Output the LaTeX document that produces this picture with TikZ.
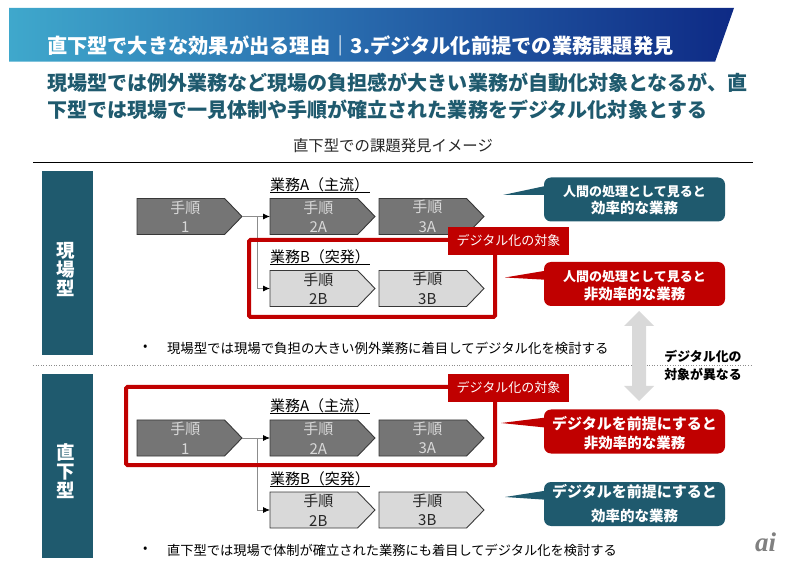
\documentclass[tikz,border=0pt]{standalone}
\usepackage{fontspec}
\setmainfont{Noto Sans CJK JP}
\newfontfamily\logofont{Liberation Serif}
\usetikzlibrary{shapes.symbols,arrows.meta}
\definecolor{teal}{HTML}{1F5A6E}
\definecolor{redc}{HTML}{C00000}
\definecolor{chevd}{HTML}{757575}
\definecolor{chevl}{HTML}{D9D9D9}
\definecolor{chevb}{HTML}{383838}
\definecolor{bna}{HTML}{3FA8CC}
\definecolor{bnb}{HTML}{2767AB}
\definecolor{bnc}{HTML}{0E2A85}
\newcommand\chevtxt[2]{\hspace*{9pt}#1\\[.5pt]\hspace*{9pt}#2}
\tikzset{
  txt/.style={inner sep=0,outer sep=0,anchor=west},
  chev/.style={signal,signal to=east,signal from=nowhere,signal pointer angle=92,
    minimum width=105pt,minimum height=36pt,inner sep=0,outer sep=0,anchor=west,
    draw=chevb,line width=.9pt,align=center,font=\fontsize{15}{19}\selectfont},
  chevdark/.style={chev,fill=chevd,text=chevl},
  chevlight/.style={chev,fill=chevl,text=black!85},
  block/.style={fill=teal,inner sep=0,minimum width=51pt,minimum height=184pt},
  blocktext/.style={text=white,inner sep=0,align=center,font=\bfseries\fontsize{18.5}{19}\selectfont},
  frame/.style={draw=redc,line width=4pt,rounded corners=1.5pt},
  tag/.style={fill=redc,text=white,inner sep=0,minimum width=121pt,minimum height=28pt,
    font=\fontsize{13}{16}\selectfont},
  callout/.style={rounded corners=7pt,inner sep=0,minimum width=181pt,minimum height=44pt},
  calltext/.style={inner sep=0,text=white,align=center,font=\bfseries},
  wire/.style={draw=black!45,line width=.8pt},
  wirea/.style={wire,-{Latex[black,length=7pt,width=6pt]}},
  ulab/.style={txt,font=\fontsize{15}{16}\selectfont},
  uline/.style={draw=black,line width=.8pt},
}
\begin{document}
\begin{tikzpicture}[x=1pt,y=-1pt]
\useasboundingbox (0,0) rectangle (785,561);
% banner
\shade[left color=bna,right color=bnc,middle color=bnb] (9,8) -- (734,8) -- (715,62) -- (9,62) -- cycle;
\draw[white,opacity=.35,line width=1pt] (9,62) -- (715,62);
\node[txt,text=white,font=\bfseries\fontsize{20.25}{24}\selectfont] (title) at (47,46) {直下型で大きな効果が出る理由｜3.デジタル化前提での業務課題発見};
\node[txt,text=teal,align=left,font=\bfseries\fontsize{20.05}{27}\selectfont] (head) at (47,96.5) {現場型では例外業務など現場の負担感が大きい業務が自動化対象となるが、直\\下型では現場で一見体制や手順が確立された業務をデジタル化対象とする};
\node[txt,text=black!85,font=\fontsize{15.4}{18}\selectfont] (sub) at (293,146) {直下型での課題発見イメージ};
\coordinate (rl) at (33,162); \coordinate (rr) at (753,162);
\draw[black,line width=.8pt] (rl) -- (rr);
\coordinate (dl) at (33,365); \coordinate (dr) at (753,365);
\draw[black!45,dotted,line width=.6pt] (dl) -- (dr);
% blocks
\node[block] (b1) at (67.5,263) {};
\node[blocktext] (b1t) at (65.5,270) {現\\場\\型};
\node[block] (b2) at (67.5,466) {};
\node[blocktext] (b2t) at (65.5,471.5) {直\\下\\型};
% upper flow
\node[chevdark] (u1) at (137,216.5) {\chevtxt{手順}{1}};
\node[chevdark] (u2a) at (270,216.5) {\chevtxt{手順}{2A}};
\node[chevdark] (u3a) at (379,216.5) {\chevtxt{手順}{3A}};
\node[chevlight] (u2b) at (270,288.5) {\chevtxt{手順}{2B}};
\node[chevlight] (u3b) at (379,288.5) {\chevtxt{手順}{3B}};
\coordinate (ubr) at (257,216.5);
\draw[wirea] (u1.east) -- (u2a.west);
\draw[wirea] (ubr) |- (u2b.west);
\node[ulab] (ula) at (270,185) {業務A（主流）};
\coordinate (ula1) at (270,192.7); \coordinate (ula2) at (370,192.7);
\draw[uline] (ula1) -- (ula2);
\node[ulab] (ulb) at (270,257) {業務B（突発）};
\coordinate (ulb1) at (270,264.7); \coordinate (ulb2) at (370,264.7);
\draw[uline] (ulb1) -- (ulb2);
\draw[frame] (249,240) rectangle (495,317);
\node[tag] (t1) at (508.5,241) {デジタル化の対象};
% lower flow
\node[chevdark] (l1) at (137,438) {\chevtxt{手順}{1}};
\node[chevdark] (l2a) at (270,438) {\chevtxt{手順}{2A}};
\node[chevdark] (l3a) at (379,438) {\chevtxt{手順}{3A}};
\node[chevlight] (l2b) at (270,510) {\chevtxt{手順}{2B}};
\node[chevlight] (l3b) at (379,510) {\chevtxt{手順}{3B}};
\coordinate (lbr) at (257,438);
\draw[wirea] (l1.east) -- (l2a.west);
\draw[wirea] (lbr) |- (l2b.west);
\node[ulab] (lla) at (270,406) {業務A（主流）};
\coordinate (lla1) at (270,413); \coordinate (lla2) at (370,413);
\draw[uline] (lla1) -- (lla2);
\node[ulab] (llb) at (270,479) {業務B（突発）};
\coordinate (llb1) at (270,486); \coordinate (llb2) at (370,486);
\draw[uline] (llb1) -- (llb2);
\draw[frame] (126,387) rectangle (495,465);
\node[tag] (t2) at (508.5,388) {デジタル化の対象};
% callouts
\fill[teal] (503,195) -- (550,185) -- (550,195) -- cycle;
\node[callout,fill=teal] (c1) at (634.5,199.5) {};
\node[calltext] (c1t) at (634.5,200.5) {\fontsize{13}{17}\selectfont 人間の処理として見ると\\[2pt]\fontsize{14.5}{17}\selectfont 効率的な業務};
\fill[redc] (505,277.5) -- (550,270) -- (550,280) -- cycle;
\node[callout,fill=redc] (c2) at (634.5,284) {};
\node[calltext] (c2t) at (634.5,285.5) {\fontsize{13}{17}\selectfont 人間の処理として見ると\\[3pt]\fontsize{14.5}{17}\selectfont 非効率的な業務};
\fill[redc] (501,423) -- (550,417) -- (550,428) -- cycle;
\node[callout,fill=redc] (c3) at (634.5,431.5) {};
\node[calltext] (c3t) at (634.5,433.5) {\fontsize{15}{20}\selectfont デジタルを前提にすると\\[4pt]\fontsize{14.5}{20}\selectfont 非効率的な業務};
\fill[teal] (505,497) -- (550,490) -- (550,500) -- cycle;
\node[callout,fill=teal] (c4) at (634.5,504) {};
\node[calltext] (c4t) at (634.5,504) {\fontsize{15}{25}\selectfont デジタルを前提にすると\\[9pt]\fontsize{14.5}{25}\selectfont 効率的な業務};
% double arrow
\fill[chevl] (639,311) -- (654,326) -- (646,326) -- (646,386) -- (654,386) -- (639,401) -- (624,386) -- (632,386) -- (632,326) -- (624,326) -- cycle;
\node[inner sep=0,align=center,font=\bfseries\fontsize{12.9}{18}\selectfont] (diff) at (703,365) {デジタル化の\\対象が異なる};
% bullets
\node[txt,font=\fontsize{13}{16}\selectfont] (bu1) at (143,348) {•};
\node[txt,font=\fontsize{13.4}{16}\selectfont] (tx1) at (167,348) {現場型では現場で負担の大きい例外業務に着目してデジタル化を検討する};
\node[txt,font=\fontsize{13}{16}\selectfont] (bu2) at (143,550) {•};
\node[txt,font=\fontsize{13.25}{16}\selectfont] (tx2) at (167,550) {直下型では現場で体制が確立された業務にも着目してデジタル化を検討する};
% logo
\node[txt,text=black!50,font=\logofont\bfseries\itshape\fontsize{27}{27}\selectfont] (logo) at (755,542) {ai};
\end{tikzpicture}
\end{document}
